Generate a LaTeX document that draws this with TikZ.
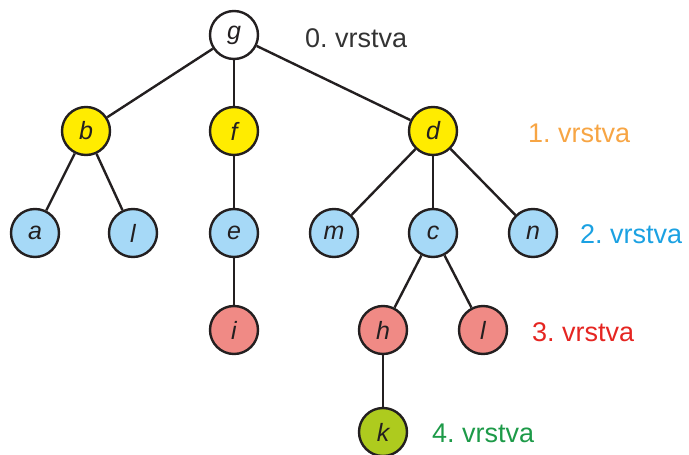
\documentclass[tikz,border=0pt]{standalone}
\usepackage{fontspec}
\setmainfont{Liberation Sans}
\frenchspacing
\definecolor{edgec}{HTML}{231F20}
\definecolor{yel}{HTML}{FFEC00}
\definecolor{blu}{HTML}{A6D9F7}
\definecolor{redf}{HTML}{F08A85}
\definecolor{grn}{HTML}{AECB1E}
\definecolor{t0}{HTML}{333333}
\definecolor{t1}{HTML}{F7A544}
\definecolor{t2}{HTML}{1BA1E2}
\definecolor{t3}{HTML}{E52521}
\definecolor{t4}{HTML}{1D9A48}
\begin{document}
\begin{tikzpicture}[x=1pt,y=-1pt,
  vx/.style={circle,draw=edgec,line width=2.4pt,minimum size=48pt,inner sep=0pt,
    font=\fontsize{25}{29}\selectfont\itshape,text=edgec},
  lay/.style={anchor=west,font=\fontsize{27}{31}\selectfont,inner sep=0pt},
  ed/.style={draw=edgec,line width=2.4pt}]
\useasboundingbox (0,0) rectangle (689,455);
\node[vx,fill=white] (g) at (234,35) {g};
\node[vx,fill=yel] (b) at (86,131) {b};
\node[vx,fill=yel] (f) at (234,131) {f};
\node[vx,fill=yel] (d) at (433,131) {d};
\node[vx,fill=blu] (a) at (35,233) {a};
\node[vx,fill=blu] (l1) at (133,233) {l};
\node[vx,fill=blu] (e) at (234,233) {e};
\node[vx,fill=blu] (m) at (334,233) {m};
\node[vx,fill=blu] (c) at (433,233) {c};
\node[vx,fill=blu] (n) at (533,233) {n};
\node[vx,fill=redf] (i) at (234,330) {i};
\node[vx,fill=redf] (h) at (383,330) {h};
\node[vx,fill=redf] (l2) at (483,330) {l};
\node[vx,fill=grn] (k) at (383,432) {k};
\foreach \u/\v in {g/b,g/f,g/d,b/a,b/l1,f/e,d/m,d/c,d/n,e/i,c/h,c/l2,h/k}
  \path[ed] (\u) -- (\v);
\node[lay,text=t0] (L0) at (305,38) {0. vrstva};
\node[lay,text=t1] (L1) at (528,133) {1. vrstva};
\node[lay,text=t2] (L2) at (580,234) {2. vrstva};
\node[lay,text=t3] (L3) at (532,332) {3. vrstva};
\node[lay,text=t4] (L4) at (432,433) {4. vrstva};
\end{tikzpicture}
\end{document}
